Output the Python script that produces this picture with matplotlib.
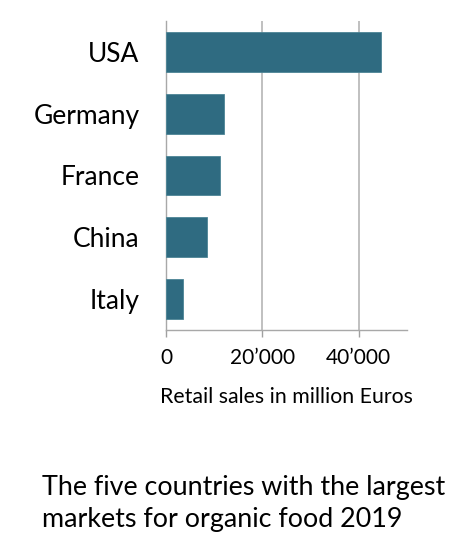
import matplotlib.pyplot as plt
from matplotlib.ticker import FuncFormatter

countries = ["USA", "Germany", "France", "China", "Italy"]
sales = [44700, 12000, 11300, 8500, 3600]
xticks = [0, 20000, 40000]

plt.rcParams['font.family'] = ['Lato', 'DejaVu Sans']

fig = plt.figure(figsize=(4.7, 5.39), dpi=100)
ax = fig.add_axes([0.3532, 0.3878, 0.5128, 0.5732])

ax.barh(range(len(countries)), sales, height=0.645, color="#2f6b81",
        edgecolor="#4d8596", linewidth=0.6, zorder=3)
ax.set_yticks(range(len(countries)))
ax.set_yticklabels(countries, fontsize=19)
ax.set_ylim(len(countries) - 0.5, -0.5)
ax.set_xlim(0, 50000)
ax.set_xticks(xticks)
ax.xaxis.set_major_formatter(FuncFormatter(lambda v, p: "0" if v == 0 else f"{int(v):,}".replace(",", "\u2019")))
ax.tick_params(axis="y", length=0, pad=19)
ax.tick_params(axis="x", length=5, width=1, color="#a0a0a0", labelsize=15, pad=8)
ax.grid(axis="x", color="#c0c0c0", linewidth=1.4, zorder=0)

for s in ["top", "right"]:
    ax.spines[s].set_visible(False)
for s in ["left", "bottom"]:
    ax.spines[s].set_color("#a8a8a8")
    ax.spines[s].set_linewidth(1.0)

ax.set_xlabel("Retail sales in million Euros", fontsize=15.3, labelpad=14)

fig.text(0.089, 0.118, "The five countries with the largest\nmarkets for organic food 2019",
         fontsize=19.4, ha="left", va="top", linespacing=1.33)

fig.savefig("out.png", dpi=100)
